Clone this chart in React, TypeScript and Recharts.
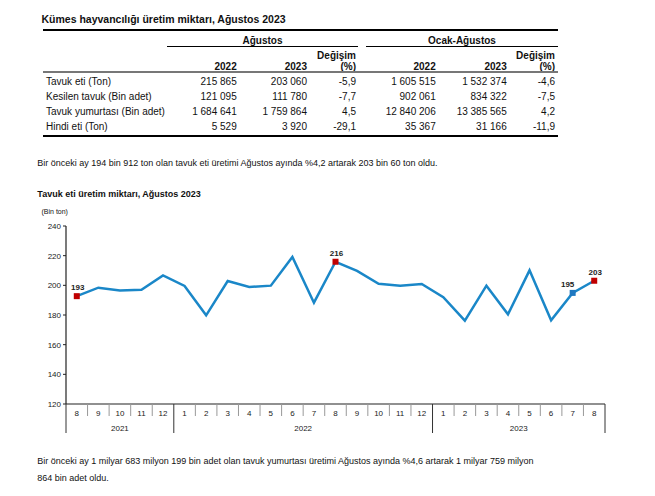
import React from 'react';
import { LineChart, Line, XAxis, YAxis } from 'recharts';

// Table data
const rowLabels = ['Tavuk eti (Ton)', 'Kesilen tavuk (Bin adet)', 'Tavuk yumurtası (Bin adet)', 'Hindi eti (Ton)'];
const aug2022 = ['215 865', '121 095', '1 684 641', '5 529'];
const aug2023 = ['203 060', '111 780', '1 759 864', '3 920'];
const augChange = ['-5,9', '-7,7', '4,5', '-29,1'];
const ytd2022 = ['1 605 515', '902 061', '12 840 206', '35 367'];
const ytd2023 = ['1 532 374', '834 322', '13 385 565', '31 166'];
const ytdChange = ['-4,6', '-7,5', '4,2', '-11,9'];

// Chart data
const months = [8, 9, 10, 11, 12, 1, 2, 3, 4, 5, 6, 7, 8, 9, 10, 11, 12, 1, 2, 3, 4, 5, 6, 7, 8];
const years = [
  2021, 2021, 2021, 2021, 2021,
  2022, 2022, 2022, 2022, 2022, 2022, 2022, 2022, 2022, 2022, 2022, 2022,
  2023, 2023, 2023, 2023, 2023, 2023, 2023, 2023,
];
const chickenMeat = [
  192.7, 198.4, 196.6, 197.0, 206.7, 199.6, 179.8, 202.9, 198.9, 199.8, 219.1, 188.3, 215.9,
  209.7, 201.1, 199.8, 200.9, 192.0, 176.2, 199.8, 180.5, 210.1, 176.4, 194.9, 203.1,
];
const yTicks = [120, 140, 160, 180, 200, 220, 240];
const redPoints = [0, 12, 24];
const bluePoints = [23];

const chartData = months.map((m, i) => ({
  key: `${years[i]}-${m}`,
  month: m,
  year: years[i],
  value: chickenMeat[i],
}));

const FONT = '"Liberation Sans", Arial, sans-serif';
const LINE_BLUE = '#1a87c8';
const MARK_RED = '#c00000';

const CHART_W = 655;
const CHART_H = 250;
const M_LEFT = 56;
const M_RIGHT = 50;
const Y_AXIS_W = 10;
const plotW = CHART_W - M_LEFT - Y_AXIS_W - M_RIGHT;
const band = plotW / chartData.length;

const T = ({ x, y, size = 10, bold = false, align = 'left', children }: any) => {
  const lh = Math.round(size * 1.3);
  const style: React.CSSProperties = {
    position: 'absolute',
    top: y - lh / 2,
    fontSize: size,
    lineHeight: `${lh}px`,
    fontWeight: bold ? 'bold' : 'normal',
    whiteSpace: 'nowrap',
    color: '#111',
  };
  if (align === 'right') {
    style.right = 655 - x;
  } else if (align === 'center') {
    style.left = x - 150;
    style.width = 300;
    style.textAlign = 'center';
  } else {
    style.left = x;
  }
  return <div style={style}>{children}</div>;
};

const HLine = ({ x1, x2, y, w = 1, color = '#000' }: any) => (
  <div style={{ position: 'absolute', left: x1, top: y - w / 2, width: x2 - x1, height: w, background: color }} />
);

const MonthTick = (props: any) => {
  const { x, y, payload } = props;
  const i = payload.index;
  const yr = years[i];
  const first = i === 0 || years[i - 1] !== yr;
  const last = i === years.length - 1;
  let groupEnd = i;
  while (groupEnd + 1 < years.length && years[groupEnd + 1] === yr) groupEnd++;
  return (
    <g>
      <line x1={x - band / 2} x2={x - band / 2} y1={y} y2={first ? y + 29 : y + 12} stroke={first ? '#333' : '#999'} strokeWidth={1} />
      {last && <line x1={x + band / 2} x2={x + band / 2} y1={y} y2={y + 29} stroke="#333" strokeWidth={1} />}
      <text x={x} y={y + 12.3} textAnchor="middle" fontSize={8} fill="#222" fontFamily={FONT}>
        {months[i]}
      </text>
      {first && (
        <text x={x + ((groupEnd - i) / 2) * band} y={y + 27} textAnchor="middle" fontSize={8} fill="#222" fontFamily={FONT}>
          {yr}
        </text>
      )}
    </g>
  );
};

const SquareDot = (props: any) => {
  const { cx, cy, index } = props;
  const isRed = redPoints.includes(index);
  const isBlue = bluePoints.includes(index);
  if (!isRed && !isBlue) return <g key={index} />;
  return <rect key={index} x={cx - 3} y={cy - 3} width={6} height={6} fill={isRed ? MARK_RED : '#1f78c1'} />;
};

const PointLabel = (props: any) => {
  const { x, y, index, value } = props;
  if (!redPoints.includes(index) && !bluePoints.includes(index)) return null;
  const dx = bluePoints.includes(index) ? -5 : 1;
  return (
    <text x={x + dx} y={y - 6} textAnchor="middle" fontSize={8} fontWeight="bold" fill="#222" fontFamily={FONT}>
      {Math.round(value)}
    </text>
  );
};

const cols = [
  { right: 236.7, vals: aug2022 },
  { right: 307, vals: aug2023 },
  { right: 356, vals: augChange },
  { right: 435.7, vals: ytd2022 },
  { right: 506.7, vals: ytd2023 },
  { right: 555, vals: ytdChange },
];
const rowY = [81.5, 96.6, 111.6, 126.8];

export default function App() {
  return (
    <div style={{ position: 'absolute', left: 0, top: 0, width: 655, height: 496, background: '#fff', fontFamily: FONT, overflow: 'hidden' }}>
      <T x={41.5} y={18.5} size={10.5} bold>Kümes hayvancılığı üretim miktarı, Ağustos 2023</T>

      <HLine x1={43} x2={558} y={30} w={2} />
      <T x={262.5} y={40.7} bold align="center">Ağustos</T>
      <T x={462} y={40.7} bold align="center">Ocak-Ağustos</T>
      <HLine x1={167} x2={358} y={46.3} w={1.5} />
      <HLine x1={366} x2={558} y={46.3} w={1.5} />
      <T x={356} y={55} bold align="right">Değişim</T>
      <T x={555} y={55} bold align="right">Değişim</T>
      <T x={236.7} y={66} bold align="right">2022</T>
      <T x={307} y={66} bold align="right">2023</T>
      <T x={356} y={66} bold align="right">(%)</T>
      <T x={435.7} y={66} bold align="right">2022</T>
      <T x={506.7} y={66} bold align="right">2023</T>
      <T x={555} y={66} bold align="right">(%)</T>
      <HLine x1={43} x2={558} y={72} w={1.5} color="#777" />
      {rowLabels.map((l, r) => (
        <T key={l} x={46} y={rowY[r]}>{l}</T>
      ))}
      {cols.map((c, ci) =>
        c.vals.map((v, r) => (
          <T key={`${ci}-${r}`} x={c.right} y={rowY[r]} align="right">{v}</T>
        ))
      )}
      <HLine x1={43} x2={558} y={136} w={2} />

      <T x={37.3} y={163.3} size={9}>
        Bir önceki ay 194 bin 912 ton olan tavuk eti üretimi Ağustos ayında %4,2 artarak 203 bin 60 ton oldu.
      </T>

      <T x={37.3} y={194.3} size={9} bold>Tavuk eti üretim miktarı, Ağustos 2023</T>
      <T x={41.5} y={211.7} size={7}>(Bin ton)</T>

      <div style={{ position: 'absolute', left: 0, top: 200 }}>
        <LineChart width={CHART_W} height={CHART_H} data={chartData} margin={{ top: 26, right: M_RIGHT, bottom: 6, left: M_LEFT }}>
          <XAxis
            dataKey="key"
            height={40}
            padding={{ left: band / 2, right: band / 2 }}
            axisLine={{ stroke: '#222', strokeWidth: 1.2 }}
            tickLine={false}
            tickSize={0}
            tickMargin={0}
            interval={0}
            tick={<MonthTick />}
          />
          <YAxis
            width={Y_AXIS_W}
            domain={[120, 240]}
            ticks={yTicks}
            interval={0}
            axisLine={{ stroke: '#222', strokeWidth: 1.2 }}
            tickLine={{ stroke: '#222' }}
            tickSize={3}
            tickMargin={2}
            tick={{ fontSize: 8, fill: '#222', fontFamily: FONT }}
          />
          <Line
            type="linear"
            dataKey="value"
            stroke={LINE_BLUE}
            strokeWidth={2.5}
            dot={<SquareDot />}
            activeDot={false}
            label={<PointLabel />}
            isAnimationActive={false}
          />
        </LineChart>
      </div>

      <T x={37.3} y={461} size={9}>
        Bir önceki ay 1 milyar 683 milyon 199 bin adet olan tavuk yumurtası üretimi Ağustos ayında %4,6 artarak 1 milyar 759 milyon
      </T>
      <T x={37.3} y={477.7} size={9}>864 bin adet oldu.</T>
    </div>
  );
}
